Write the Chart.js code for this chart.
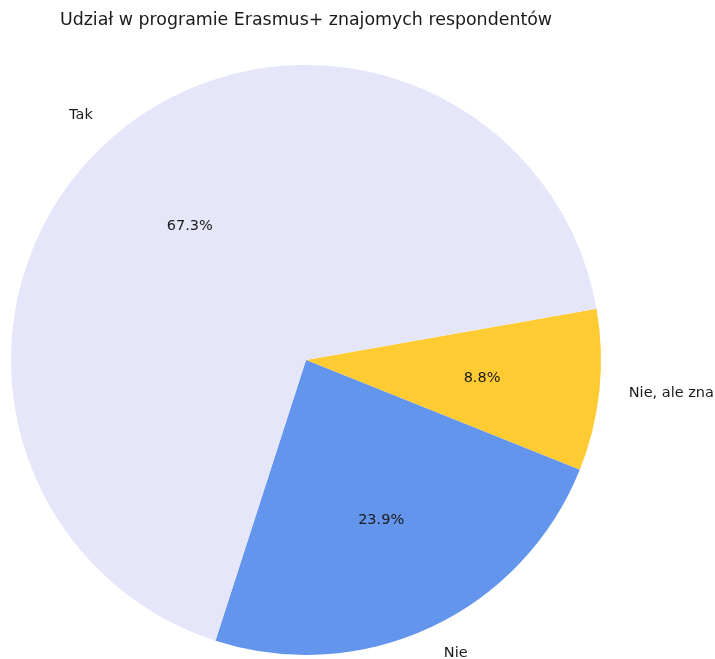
<!DOCTYPE html>
<html>
<head>
<meta charset="utf-8">
<script src="https://cdn.jsdelivr.net/npm/chart.js@4/dist/chart.umd.min.js"></script>
<style>
  html, body { margin: 0; padding: 0; background: #fff; }
  #wrap { width: 715px; height: 659px; }
</style>
</head>
<body>
<div id="wrap"><canvas id="pieChart" width="715" height="659"></canvas></div>
<script>
// data (counts out of 113 respondents)
const categories = ["Tak", "Nie", "Nie, ale zna"];
const counts = [76, 27, 10];
const sliceColors = ["#E6E6FA", "#6495ED", "#FFCB33"];
const chartTitle = "Udział w programie Erasmus+ znajomych respondentów";

// matplotlib draws counter-clockwise, Chart.js clockwise -> reverse order
const labelsCw = categories.slice().reverse();
const countsCw = counts.slice().reverse();
const colorsCw = sliceColors.slice().reverse();

// outside labels at 1.1r and percentages at 0.6r, like matplotlib
const pieLabels = {
  id: "pieLabels",
  afterDatasetsDraw(chart) {
    const ctx = chart.ctx;
    const arcs = chart.getDatasetMeta(0).data;
    const total = countsCw.reduce((a, b) => a + b, 0);
    ctx.save();
    ctx.textBaseline = "middle";
    arcs.forEach((arc, i) => {
      const mid = (arc.startAngle + arc.endAngle) / 2;
      const r = arc.outerRadius;
      const cos = Math.cos(mid), sin = Math.sin(mid);

      ctx.font = "14.5px 'DejaVu Sans'";
      ctx.fillStyle = "#1a1a1a";
      ctx.textAlign = cos < 0 ? "right" : "left";
      ctx.fillText(labelsCw[i], arc.x + 1.1 * r * cos, arc.y + 1.1 * r * sin);

      ctx.textAlign = "center";
      const pct = (countsCw[i] / total * 100).toFixed(1) + "%";
      ctx.fillText(pct, arc.x + 0.6 * r * cos, arc.y + 0.6 * r * sin);
    });
    ctx.restore();
  },
};

new Chart(document.getElementById("pieChart"), {
  type: "pie",
  data: {
    labels: labelsCw,
    datasets: [
      {
        data: countsCw,
        backgroundColor: colorsCw,
        borderWidth: 0,
        hoverOffset: 0,
      },
    ],
  },
  options: {
    responsive: false,
    animation: false,
    rotation: 80,
    layout: { padding: { left: 11, right: 114, top: 0, bottom: 4 } },
    plugins: {
      legend: { display: false },
      tooltip: { enabled: false },
      title: {
        display: true,
        text: chartTitle,
        color: "#1a1a1a",
        font: { family: "'DejaVu Sans'", size: 17.4, weight: "normal" },
        padding: { top: 10, bottom: 34 },
      },
    },
  },
  plugins: [pieLabels],
});
</script>
</body>
</html>
